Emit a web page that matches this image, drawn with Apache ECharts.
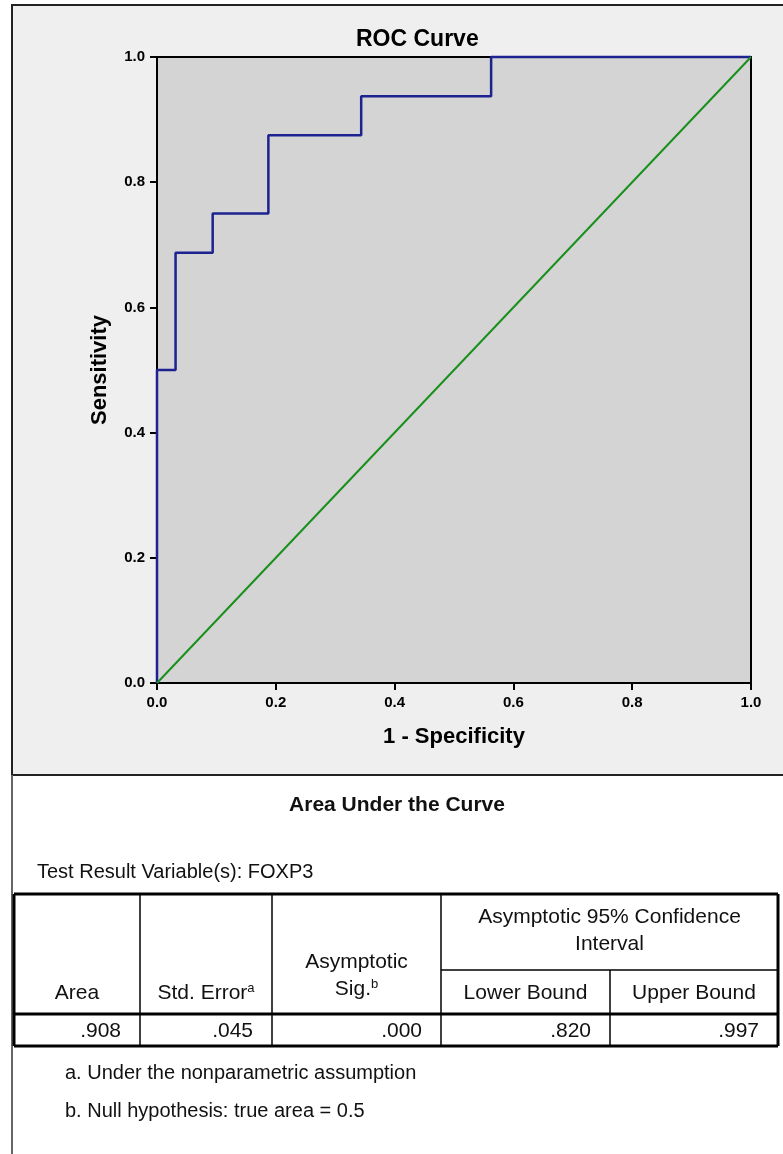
<!DOCTYPE html>
<html lang="en">

<head>
    <meta charset="UTF-8">
    <title>ROC Curve</title>
    <script src="https://cdn.jsdelivr.net/npm/echarts@6/dist/echarts.min.js"></script>
    <style>
        body { margin: 0; background: #fff; }
    </style>
</head>

<body>
    <div id="main" style="width: 783px;height:1154px;"></div>
    <script type="text/javascript">
        // ROC operating points (1 - specificity, sensitivity)
        const fpr = [0, 0, 0.03125, 0.09375, 0.1875, 0.34375, 0.5625, 1];
        const tpr = [0, 0.5, 0.6875, 0.75, 0.875, 0.9375, 1, 1];
        // reference (chance) line
        const refX = [0, 1];
        const refY = [0, 1];

        // Area Under the Curve table
        const tableTitle = 'Area Under the Curve';
        const testVariable = 'Test Result Variable(s): FOXP3';
        const colHeaders = ['Area', 'Std. Error', 'Asymptotic', 'Lower Bound', 'Upper Bound'];
        const ciHeader = ['Asymptotic 95% Confidence', 'Interval'];
        const aucValues = ['.908', '.045', '.000', '.820', '.997'];
        const footnotes = ['a. Under the nonparametric assumption', 'b. Null hypothesis: true area = 0.5'];

        const font = 'Liberation Sans, Arial, sans-serif';
        const colX = [14, 140, 272, 441, 610, 778];
        const rowY = [894, 970, 1014, 1046];

        let graphic = [];
        // grey frame of the chart
        graphic.push({
            type: 'rect', z: -10,
            shape: { x: 12, y: 5, width: 790, height: 770 },
            style: { fill: '#efefef', stroke: '#222', lineWidth: 2 }
        });
        graphic.push({
            type: 'line', z: -10,
            shape: { x1: 12, y1: 775, x2: 12, y2: 1154 },
            style: { stroke: '#666', lineWidth: 2 }
        });

        function line(x1, y1, x2, y2, w) {
            graphic.push({ type: 'line', shape: { x1: x1, y1: y1, x2: x2, y2: y2 }, style: { stroke: '#000', lineWidth: w } });
        }
        function text(str, x, y, align, extra) {
            graphic.push({
                type: 'text',
                style: Object.assign({
                    text: str, x: x, y: y, align: align, verticalAlign: 'middle',
                    font: '21px ' + font, fill: '#111'
                }, extra || {})
            });
        }

        // table titles
        text(tableTitle, 397, 805, 'center', { font: 'bold 21px ' + font });
        text(testVariable, 37, 872, 'left', { font: '20px ' + font });

        // table grid
        for (let i = 1; i < 5; i++) {
            let top = (i === 4) ? rowY[1] : rowY[0];
            line(colX[i], top, colX[i], rowY[3], 1.5);
        }
        line(colX[3], rowY[1], colX[5], rowY[1], 1.5);
        line(colX[0], rowY[2], colX[5], rowY[2], 3);
        line(colX[0], rowY[0], colX[5], rowY[0], 3);
        line(colX[0], rowY[3], colX[5], rowY[3], 3);
        line(colX[0], rowY[0], colX[0], rowY[3], 3);
        line(colX[5], rowY[0], colX[5], rowY[3], 3);

        // header texts
        const supRich = { sup: { fontSize: 13, fontFamily: font, verticalAlign: 'top', lineHeight: 22 } };
        text(ciHeader[0], (colX[3] + colX[5]) / 2, 917, 'center');
        text(ciHeader[1], (colX[3] + colX[5]) / 2, 944, 'center');
        text(colHeaders[0], (colX[0] + colX[1]) / 2, 993, 'center');
        text(colHeaders[1] + '{sup|a}', (colX[1] + colX[2]) / 2, 993, 'center', { rich: supRich, lineHeight: 22 });
        text(colHeaders[2], (colX[2] + colX[3]) / 2, 962, 'center');
        text('Sig.{sup|b}', (colX[2] + colX[3]) / 2, 989, 'center', { rich: supRich, lineHeight: 22 });
        text(colHeaders[3], (colX[3] + colX[4]) / 2, 993, 'center');
        text(colHeaders[4], (colX[4] + colX[5]) / 2, 993, 'center');

        // values, right aligned
        aucValues.forEach(function (v, i) {
            text(v, colX[i + 1] - 19, 1031, 'right');
        });

        // footnotes
        text(footnotes[0], 65, 1073, 'left', { font: '20px ' + font });
        text(footnotes[1], 65, 1111, 'left', { font: '20px ' + font });

        const axisText = { color: '#000', fontWeight: 'bold', fontSize: 15, fontFamily: font };
        const nameText = { color: '#000', fontWeight: 'bold', fontSize: 22, fontFamily: font };

        let options = {
            backgroundColor: '#fff',
            animation: false,
            title: {
                text: 'ROC Curve',
                left: 351, top: 23,
                textStyle: { color: '#000', fontWeight: 'bold', fontSize: 23, fontFamily: font }
            },
            grid: {
                left: 157, top: 57, width: 594, height: 626,
                show: true, backgroundColor: '#d4d4d4', borderColor: '#000', borderWidth: 2
            },
            xAxis: {
                type: 'value', min: 0, max: 1, interval: 0.2,
                name: '1 - Specificity', nameLocation: 'middle', nameGap: 43,
                nameTextStyle: nameText,
                axisLine: { show: true, lineStyle: { color: '#000', width: 2 } },
                axisTick: { show: true, length: 7, lineStyle: { color: '#000', width: 2 } },
                axisLabel: Object.assign({ margin: 12, formatter: v => v.toFixed(1) }, axisText),
                splitLine: { show: false }
            },
            yAxis: {
                type: 'value', min: 0, max: 1, interval: 0.2,
                name: 'Sensitivity', nameLocation: 'middle', nameGap: 46,
                nameTextStyle: nameText,
                axisLine: { show: true, lineStyle: { color: '#000', width: 2 } },
                axisTick: { show: true, length: 7, lineStyle: { color: '#000', width: 2 } },
                axisLabel: Object.assign({ margin: 12, formatter: v => v.toFixed(1) }, axisText),
                splitLine: { show: false }
            },
            graphic: graphic,
            series: [{
                name: 'FOXP3',
                type: 'line',
                step: 'end',
                showSymbol: false,
                clip: false,
                lineStyle: { color: '#1c2391', width: 2.5 },
                data: fpr.map((x, i) => [x, tpr[i]])
            }, {
                name: 'Reference Line',
                type: 'line',
                showSymbol: false,
                lineStyle: { color: '#17901c', width: 2 },
                data: refX.map((x, i) => [x, refY[i]])
            }]
        };

        let myChart = echarts.init(document.getElementById('main'));
        myChart.setOption(options);
    </script>
</body>

</html>
